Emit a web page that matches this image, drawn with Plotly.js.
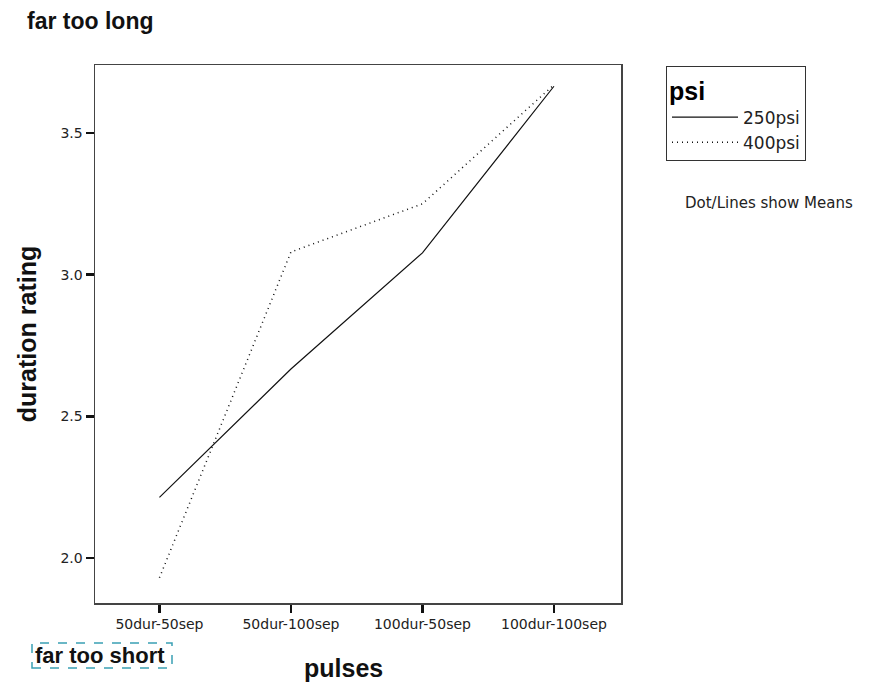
<!DOCTYPE html>
<html>
<head>
<meta charset="utf-8">
<script src="https://cdn.plot.ly/plotly-3.0.1.min.js"></script>
<style>html,body{margin:0;padding:0;background:#fff;}#chart{width:888px;height:687px;}</style>
</head>
<body>
<div id="chart"></div>
<script>
const categories = ["50dur-50sep", "50dur-100sep", "100dur-50sep", "100dur-100sep"];
const series250 = [2.214, 2.667, 3.077, 3.665];
const series400 = [1.93, 3.08, 3.25, 3.67];
const seriesNames = ["250psi", "400psi"];
const yTicks = [2.0, 2.5, 3.0, 3.5];

const traces = [
  {x: categories, y: series250, name: seriesNames[0], type: 'scatter', mode: 'lines',
   line: {color: '#111', width: 1.2, dash: 'solid'}},
  {x: categories, y: series400, name: seriesNames[1], type: 'scatter', mode: 'lines',
   line: {color: '#111', width: 1.5, dash: '1px,4px'}}
];

const layout = {
  width: 888, height: 687,
  margin: {l: 95, r: 267, t: 65, b: 84},
  paper_bgcolor: '#fff', plot_bgcolor: '#fff',
  showlegend: true,
  xaxis: {
    type: 'category', range: [-0.49, 3.51],
    showline: true, mirror: true, linecolor: '#444', linewidth: 1.5,
    ticks: 'outside', ticklen: 8, tickwidth: 2.5, tickcolor: '#111',
    showgrid: false, zeroline: false,
    tickfont: {family: 'DejaVu Sans', size: 14, color: '#222'},
    title: {text: ''}
  },
  yaxis: {
    range: [1.841, 3.74],
    tickvals: yTicks, ticktext: yTicks.map(v => v.toFixed(1)),
    showline: true, mirror: true, linecolor: '#444', linewidth: 1.5,
    ticks: 'outside', ticklen: 8, tickwidth: 2.5, tickcolor: '#111',
    showgrid: false, zeroline: false,
    tickfont: {family: 'DejaVu Sans', size: 14, color: '#222'},
    title: {text: 'duration rating', font: {family: 'Arial', size: 25, color: '#111', weight: 'bold'}, standoff: 16}
  },
  legend: {
    x: (666 - 95) / 526, y: 0.998, xanchor: 'left', yanchor: 'top',
    bordercolor: '#333', borderwidth: 1, bgcolor: '#fff',
    itemwidth: 66,
    font: {family: 'DejaVu Sans', size: 17, color: '#222'},
    title: {text: 'psi', font: {family: 'Arial', size: 25, color: '#000', weight: 'bold'}}
  },
  annotations: [
    {text: 'far too long', xref: 'paper', yref: 'paper', x: (25 - 95) / 526, y: 1 + (65 - 21) / 538,
     xanchor: 'left', yanchor: 'middle', showarrow: false,
     font: {family: 'Arial', size: 23, color: '#111', weight: 'bold'}},
    {text: 'pulses', xref: 'paper', yref: 'paper', x: (343 - 95) / 526, y: (603 - 668) / 538,
     xanchor: 'center', yanchor: 'middle', showarrow: false,
     font: {family: 'Arial', size: 25, color: '#111', weight: 'bold'}},
    {text: 'far too short', xref: 'paper', yref: 'paper', x: (33 - 95) / 526, y: (603 - 655) / 538,
     xanchor: 'left', yanchor: 'middle', showarrow: false,
     font: {family: 'Arial', size: 22, color: '#111', weight: 'bold'}},
    {text: 'Dot/Lines show Means', xref: 'paper', yref: 'paper', x: (683 - 95) / 526, y: (603 - 203) / 538,
     xanchor: 'left', yanchor: 'middle', showarrow: false,
     font: {family: 'DejaVu Sans', size: 15, color: '#222'}}
  ],
  shapes: [
    {type: 'rect', xref: 'paper', yref: 'paper',
     x0: (32 - 95) / 526, x1: (172 - 95) / 526, y0: (603 - 668) / 538, y1: (603 - 643) / 538,
     line: {color: '#3aa0b4', width: 1.5, dash: 'dash'}}
  ]
};

Plotly.newPlot('chart', traces, layout, {displayModeBar: false, staticPlot: true});
</script>
</body>
</html>
